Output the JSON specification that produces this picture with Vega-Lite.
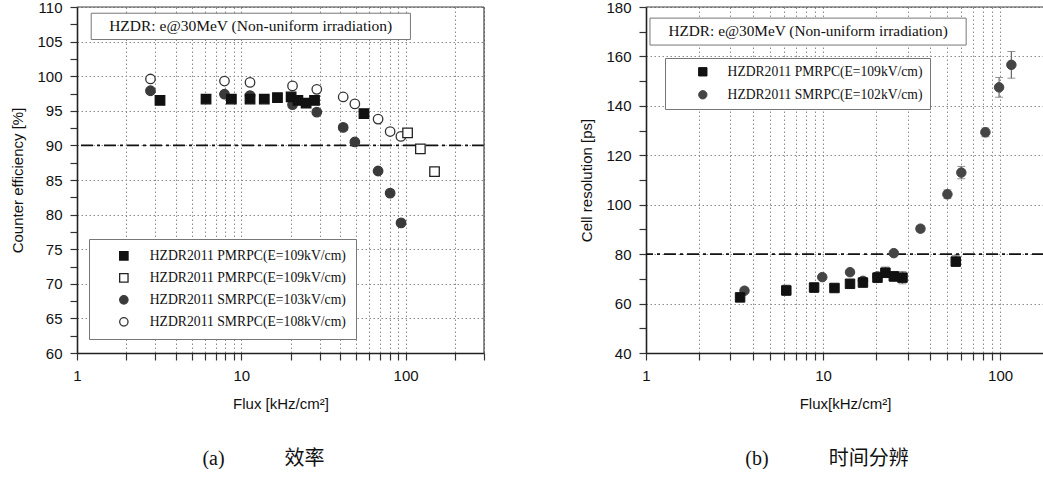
{
  "$schema": "https://vega.github.io/schema/vega-lite/v6.json",
  "padding": {"left": 10, "top": 0, "right": 0, "bottom": 0},
  "background": "white",
  "spacing": 94,
  "datasets": {
    "eff": [
      {"flux": 2.8, "eff": 97.9, "s": "SMRPC 103"},
      {"flux": 7.9, "eff": 97.4, "s": "SMRPC 103"},
      {"flux": 11.3, "eff": 97.2, "s": "SMRPC 103"},
      {"flux": 20.5, "eff": 95.9, "s": "SMRPC 103"},
      {"flux": 28.8, "eff": 94.8, "s": "SMRPC 103"},
      {"flux": 41.7, "eff": 92.6, "s": "SMRPC 103"},
      {"flux": 49.1, "eff": 90.5, "s": "SMRPC 103"},
      {"flux": 68, "eff": 86.3, "s": "SMRPC 103"},
      {"flux": 80.5, "eff": 83.1, "s": "SMRPC 103"},
      {"flux": 93.8, "eff": 78.8, "s": "SMRPC 103"},
      {"flux": 2.8, "eff": 99.6, "s": "SMRPC 108"},
      {"flux": 7.9, "eff": 99.3, "s": "SMRPC 108"},
      {"flux": 11.3, "eff": 99.1, "s": "SMRPC 108"},
      {"flux": 20.5, "eff": 98.6, "s": "SMRPC 108"},
      {"flux": 28.8, "eff": 98.1, "s": "SMRPC 108"},
      {"flux": 41.7, "eff": 97.0, "s": "SMRPC 108"},
      {"flux": 49.1, "eff": 96.0, "s": "SMRPC 108"},
      {"flux": 68, "eff": 93.8, "s": "SMRPC 108"},
      {"flux": 80.5, "eff": 92.0, "s": "SMRPC 108"},
      {"flux": 93.6, "eff": 91.3, "s": "SMRPC 108"},
      {"flux": 3.2, "eff": 96.5, "s": "PMRPC 109 filled"},
      {"flux": 6.1, "eff": 96.7, "s": "PMRPC 109 filled"},
      {"flux": 8.7, "eff": 96.7, "s": "PMRPC 109 filled"},
      {"flux": 11.3, "eff": 96.7, "s": "PMRPC 109 filled"},
      {"flux": 13.8, "eff": 96.7, "s": "PMRPC 109 filled"},
      {"flux": 16.6, "eff": 96.9, "s": "PMRPC 109 filled"},
      {"flux": 20.1, "eff": 97.0, "s": "PMRPC 109 filled"},
      {"flux": 22.1, "eff": 96.5, "s": "PMRPC 109 filled"},
      {"flux": 24.8, "eff": 96.1, "s": "PMRPC 109 filled"},
      {"flux": 27.9, "eff": 96.5, "s": "PMRPC 109 filled"},
      {"flux": 55.8, "eff": 94.6, "s": "PMRPC 109 filled"},
      {"flux": 102.8, "eff": 91.8, "s": "PMRPC 109 open"},
      {"flux": 123, "eff": 89.5, "s": "PMRPC 109 open"},
      {"flux": 150, "eff": 86.2, "s": "PMRPC 109 open"}
    ],
    "res": [
      {"flux": 3.6, "res": 65.2, "s": "HZDR2011 SMRPC(E=102kV/cm)"},
      {"flux": 9.9, "res": 70.7, "s": "HZDR2011 SMRPC(E=102kV/cm)"},
      {"flux": 14.2, "res": 72.7, "s": "HZDR2011 SMRPC(E=102kV/cm)"},
      {"flux": 16.8, "res": 69.2, "s": "HZDR2011 SMRPC(E=102kV/cm)"},
      {"flux": 20.3, "res": 71.0, "s": "HZDR2011 SMRPC(E=102kV/cm)"},
      {"flux": 25.1, "res": 80.4, "s": "HZDR2011 SMRPC(E=102kV/cm)"},
      {"flux": 35.5, "res": 90.3, "lo": 89.0, "hi": 91.5, "s": "HZDR2011 SMRPC(E=102kV/cm)"},
      {"flux": 50.4, "res": 104.2, "lo": 102.5, "hi": 106.0, "s": "HZDR2011 SMRPC(E=102kV/cm)"},
      {"flux": 60.4, "res": 113.0, "lo": 110.5, "hi": 115.5, "s": "HZDR2011 SMRPC(E=102kV/cm)"},
      {"flux": 82.6, "res": 129.3, "lo": 127.5, "hi": 131.0, "s": "HZDR2011 SMRPC(E=102kV/cm)"},
      {"flux": 98.7, "res": 147.5, "lo": 143.5, "hi": 151.5, "s": "HZDR2011 SMRPC(E=102kV/cm)"},
      {"flux": 115.8, "res": 156.6, "lo": 151.2, "hi": 162.0, "s": "HZDR2011 SMRPC(E=102kV/cm)"},
      {"flux": 3.4, "res": 62.5, "lo": 61.5, "hi": 63.5, "s": "HZDR2011 PMRPC(E=109kV/cm)"},
      {"flux": 6.2, "res": 65.3, "lo": 63.3, "hi": 67.5, "s": "HZDR2011 PMRPC(E=109kV/cm)"},
      {"flux": 8.9, "res": 66.5, "lo": 64.5, "hi": 68.0, "s": "HZDR2011 PMRPC(E=109kV/cm)"},
      {"flux": 11.6, "res": 66.3, "lo": 65.0, "hi": 67.8, "s": "HZDR2011 PMRPC(E=109kV/cm)"},
      {"flux": 14.2, "res": 68.0, "s": "HZDR2011 PMRPC(E=109kV/cm)"},
      {"flux": 16.8, "res": 68.5, "lo": 67.0, "hi": 70.0, "s": "HZDR2011 PMRPC(E=109kV/cm)"},
      {"flux": 20.3, "res": 70.5, "lo": 68.5, "hi": 72.5, "s": "HZDR2011 PMRPC(E=109kV/cm)"},
      {"flux": 22.5, "res": 72.5, "lo": 70.5, "hi": 74.8, "s": "HZDR2011 PMRPC(E=109kV/cm)"},
      {"flux": 25.1, "res": 71.0, "lo": 69.0, "hi": 73.0, "s": "HZDR2011 PMRPC(E=109kV/cm)"},
      {"flux": 28.1, "res": 70.5, "lo": 68.0, "hi": 73.0, "s": "HZDR2011 PMRPC(E=109kV/cm)"},
      {"flux": 56.2, "res": 77.0, "lo": 75.0, "hi": 79.5, "s": "HZDR2011 PMRPC(E=109kV/cm)"}
    ]
  },
  "hconcat": [
    {
      "width": 407,
      "height": 346,
      "title": {"text": "(a)\u3000\u3000\u3000效率", "orient": "bottom", "anchor": "middle", "dx": -17, "offset": 38, "font": "Liberation Serif, Noto Sans CJK SC", "fontSize": 20, "fontWeight": "normal", "color": "#111"},
      "layer": [
        {
          "data": {"values": [{}]},
          "mark": {"type": "rule", "strokeDash": [12, 4, 3, 4], "strokeWidth": 1.6, "color": "#111"},
          "encoding": {
            "y": {"datum": 90, "type": "quantitative",
              "scale": {"domain": [60, 110], "nice": false, "zero": false},
              "axis": {"title": "Counter efficiency [%]", "grid": true, "values": [60, 62.5, 65, 67.5, 70, 72.5, 75, 77.5, 80, 82.5, 85, 87.5, 90, 92.5, 95, 97.5, 100, 102.5, 105, 107.5, 110], "labelExpr": "datum.value % 5 == 0 ? format(datum.value, 'd') : ''", "labelOverlap": false, "labelFlush": false, "gridOpacity": {"condition": {"test": "datum.value % 5 == 0", "value": 1}, "value": 0}, "titlePadding": 11}}
          }
        },
        {
          "data": {"values": [{}]},
          "mark": {"type": "rule", "strokeWidth": 1.2, "color": "#444"},
          "encoding": {
            "y": {"datum": 110, "type": "quantitative",
              "scale": {"domain": [60, 110], "nice": false, "zero": false},
              "axis": {"title": "Counter efficiency [%]", "grid": true, "values": [60, 62.5, 65, 67.5, 70, 72.5, 75, 77.5, 80, 82.5, 85, 87.5, 90, 92.5, 95, 97.5, 100, 102.5, 105, 107.5, 110], "labelExpr": "datum.value % 5 == 0 ? format(datum.value, 'd') : ''", "labelOverlap": false, "labelFlush": false, "gridOpacity": {"condition": {"test": "datum.value % 5 == 0", "value": 1}, "value": 0}, "titlePadding": 11}}
          }
        },
        {
          "data": {"values": [{}]},
          "mark": {"type": "rule", "strokeWidth": 1.2, "color": "#444"},
          "encoding": {
            "x": {"datum": 300, "type": "quantitative",
              "scale": {"type": "log", "domain": [1, 300], "nice": false},
              "axis": {"title": "Flux [kHz/cm²]", "grid": true, "values": [1, 2, 3, 4, 5, 6, 7, 8, 9, 10, 20, 30, 40, 50, 60, 70, 80, 90, 100, 200, 300], "labelExpr": "datum.value == 1 || datum.value == 10 || datum.value == 100 ? format(datum.value, 'd') : ''", "labelOverlap": false, "labelFlush": false, "titlePadding": 13}}
          }
        },
        {
          "data": {"values": [{}]},
          "mark": {"type": "rect", "fill": "white", "stroke": "#777", "strokeWidth": 1},
          "encoding": {
            "x": {"datum": 1.22, "type": "quantitative",
              "scale": {"type": "log", "domain": [1, 300], "nice": false},
              "axis": {"title": "Flux [kHz/cm²]", "grid": true, "values": [1, 2, 3, 4, 5, 6, 7, 8, 9, 10, 20, 30, 40, 50, 60, 70, 80, 90, 100, 200, 300], "labelExpr": "datum.value == 1 || datum.value == 10 || datum.value == 100 ? format(datum.value, 'd') : ''", "labelOverlap": false, "labelFlush": false, "titlePadding": 13}},
            "x2": {"datum": 107},
            "y": {"datum": 109.1, "type": "quantitative",
              "scale": {"domain": [60, 110], "nice": false, "zero": false},
              "axis": {"title": "Counter efficiency [%]", "grid": true, "values": [60, 62.5, 65, 67.5, 70, 72.5, 75, 77.5, 80, 82.5, 85, 87.5, 90, 92.5, 95, 97.5, 100, 102.5, 105, 107.5, 110], "labelExpr": "datum.value % 5 == 0 ? format(datum.value, 'd') : ''", "labelOverlap": false, "labelFlush": false, "gridOpacity": {"condition": {"test": "datum.value % 5 == 0", "value": 1}, "value": 0}, "titlePadding": 11}},
            "y2": {"datum": 105.3}
          }
        },
        {
          "data": {"values": [{}]},
          "mark": {"type": "text", "font": "Liberation Serif", "fontSize": 15.5, "color": "#111"},
          "encoding": {
            "x": {"datum": 11.4, "type": "quantitative",
              "scale": {"type": "log", "domain": [1, 300], "nice": false},
              "axis": {"title": "Flux [kHz/cm²]", "grid": true, "values": [1, 2, 3, 4, 5, 6, 7, 8, 9, 10, 20, 30, 40, 50, 60, 70, 80, 90, 100, 200, 300], "labelExpr": "datum.value == 1 || datum.value == 10 || datum.value == 100 ? format(datum.value, 'd') : ''", "labelOverlap": false, "labelFlush": false, "titlePadding": 13}},
            "y": {"datum": 107.2, "type": "quantitative",
              "scale": {"domain": [60, 110], "nice": false, "zero": false},
              "axis": {"title": "Counter efficiency [%]", "grid": true, "values": [60, 62.5, 65, 67.5, 70, 72.5, 75, 77.5, 80, 82.5, 85, 87.5, 90, 92.5, 95, 97.5, 100, 102.5, 105, 107.5, 110], "labelExpr": "datum.value % 5 == 0 ? format(datum.value, 'd') : ''", "labelOverlap": false, "labelFlush": false, "gridOpacity": {"condition": {"test": "datum.value % 5 == 0", "value": 1}, "value": 0}, "titlePadding": 11}},
            "text": {"value": "HZDR: e@30MeV (Non-uniform irradiation)"}
          }
        },
        {
          "data": {"name": "eff"},
          "mark": {"type": "point", "filled": true, "opacity": 1, "strokeWidth": 1.3},
          "encoding": {
            "x": {"field": "flux", "type": "quantitative",
              "scale": {"type": "log", "domain": [1, 300], "nice": false},
              "axis": {"title": "Flux [kHz/cm²]", "grid": true, "values": [1, 2, 3, 4, 5, 6, 7, 8, 9, 10, 20, 30, 40, 50, 60, 70, 80, 90, 100, 200, 300], "labelExpr": "datum.value == 1 || datum.value == 10 || datum.value == 100 ? format(datum.value, 'd') : ''", "labelOverlap": false, "labelFlush": false, "titlePadding": 13}},
            "y": {"field": "eff", "type": "quantitative",
              "scale": {"domain": [60, 110], "nice": false, "zero": false},
              "axis": {"title": "Counter efficiency [%]", "grid": true, "values": [60, 62.5, 65, 67.5, 70, 72.5, 75, 77.5, 80, 82.5, 85, 87.5, 90, 92.5, 95, 97.5, 100, 102.5, 105, 107.5, 110], "labelExpr": "datum.value % 5 == 0 ? format(datum.value, 'd') : ''", "labelOverlap": false, "labelFlush": false, "gridOpacity": {"condition": {"test": "datum.value % 5 == 0", "value": 1}, "value": 0}, "titlePadding": 11}},
            "shape": {
              "field": "s", "type": "nominal",
              "scale": {"domain": ["PMRPC 109 filled", "PMRPC 109 open", "SMRPC 103", "SMRPC 108"], "range": ["square", "square", "circle", "circle"]},
              "legend": {
                "title": null, "orient": "none", "legendX": 12, "legendY": 232,
                "fillColor": "white", "strokeColor": "#777", "padding": 10,
                "labelFont": "Liberation Serif", "labelFontSize": 13.7, "labelColor": "#111", "labelLimit": 400,
                "symbolSize": 70, "symbolStrokeWidth": 1.3, "symbolOffset": 18, "labelOffset": 19, "rowPadding": 7,
                "labelExpr": "datum.label == 'SMRPC 103' ? 'HZDR2011 SMRPC(E=103kV/cm)' : datum.label == 'SMRPC 108' ? 'HZDR2011 SMRPC(E=108kV/cm)' : 'HZDR2011 PMRPC(E=109kV/cm)'"
              }
            },
            "fill": {
              "field": "s", "type": "nominal",
              "scale": {"domain": ["PMRPC 109 filled", "PMRPC 109 open", "SMRPC 103", "SMRPC 108"], "range": ["#111111", "#ffffff", "#3a3a3a", "#ffffff"]}
            },
            "stroke": {
              "field": "s", "type": "nominal",
              "scale": {"domain": ["PMRPC 109 filled", "PMRPC 109 open", "SMRPC 103", "SMRPC 108"], "range": ["#111111", "#222222", "#3a3a3a", "#333333"]}
            }
          }
        }
      ]
    },
    {
      "width": 398,
      "height": 346,
      "title": {"text": "(b)\u3000\u3000\u3000时间分辨", "orient": "bottom", "anchor": "middle", "dx": -18, "offset": 38, "font": "Liberation Serif, Noto Sans CJK SC", "fontSize": 20, "fontWeight": "normal", "color": "#111"},
      "layer": [
        {
          "data": {"values": [{}]},
          "mark": {"type": "rule", "strokeDash": [12, 4, 3, 4], "strokeWidth": 1.6, "color": "#111"},
          "encoding": {
            "y": {"datum": 80, "type": "quantitative",
              "scale": {"domain": [40, 180], "nice": false, "zero": false},
              "axis": {"title": "Cell resolution [ps]", "grid": true, "values": [40, 50, 60, 70, 80, 90, 100, 110, 120, 130, 140, 150, 160, 170, 180], "labelExpr": "datum.value % 20 == 0 ? format(datum.value, 'd') : ''", "labelOverlap": false, "labelFlush": false, "gridOpacity": {"condition": {"test": "datum.value % 20 == 0", "value": 1}, "value": 0}, "titlePadding": 11}}
          }
        },
        {
          "data": {"values": [{}]},
          "mark": {"type": "rule", "strokeWidth": 1.2, "color": "#444"},
          "encoding": {
            "y": {"datum": 180, "type": "quantitative",
              "scale": {"domain": [40, 180], "nice": false, "zero": false},
              "axis": {"title": "Cell resolution [ps]", "grid": true, "values": [40, 50, 60, 70, 80, 90, 100, 110, 120, 130, 140, 150, 160, 170, 180], "labelExpr": "datum.value % 20 == 0 ? format(datum.value, 'd') : ''", "labelOverlap": false, "labelFlush": false, "gridOpacity": {"condition": {"test": "datum.value % 20 == 0", "value": 1}, "value": 0}, "titlePadding": 11}}
          }
        },
        {
          "data": {"values": [{}]},
          "mark": {"type": "rect", "fill": "white", "stroke": "#777", "strokeWidth": 1},
          "encoding": {
            "x": {"datum": 1.053, "type": "quantitative",
              "scale": {"type": "log", "domain": [1, 177], "nice": false},
              "axis": {"title": "Flux[kHz/cm²]", "grid": true, "values": [1, 2, 3, 4, 5, 6, 7, 8, 9, 10, 20, 30, 40, 50, 60, 70, 80, 90, 100], "labelExpr": "datum.value == 1 || datum.value == 10 || datum.value == 100 ? format(datum.value, 'd') : ''", "labelOverlap": false, "labelFlush": false, "titlePadding": 13}},
            "x2": {"datum": 64.3},
            "y": {"datum": 175.5, "type": "quantitative",
              "scale": {"domain": [40, 180], "nice": false, "zero": false},
              "axis": {"title": "Cell resolution [ps]", "grid": true, "values": [40, 50, 60, 70, 80, 90, 100, 110, 120, 130, 140, 150, 160, 170, 180], "labelExpr": "datum.value % 20 == 0 ? format(datum.value, 'd') : ''", "labelOverlap": false, "labelFlush": false, "gridOpacity": {"condition": {"test": "datum.value % 20 == 0", "value": 1}, "value": 0}, "titlePadding": 11}},
            "y2": {"datum": 164.6}
          }
        },
        {
          "data": {"values": [{}]},
          "mark": {"type": "text", "font": "Liberation Serif", "fontSize": 15.3, "color": "#111"},
          "encoding": {
            "x": {"datum": 8.23, "type": "quantitative",
              "scale": {"type": "log", "domain": [1, 177], "nice": false},
              "axis": {"title": "Flux[kHz/cm²]", "grid": true, "values": [1, 2, 3, 4, 5, 6, 7, 8, 9, 10, 20, 30, 40, 50, 60, 70, 80, 90, 100], "labelExpr": "datum.value == 1 || datum.value == 10 || datum.value == 100 ? format(datum.value, 'd') : ''", "labelOverlap": false, "labelFlush": false, "titlePadding": 13}},
            "y": {"datum": 170.1, "type": "quantitative",
              "scale": {"domain": [40, 180], "nice": false, "zero": false},
              "axis": {"title": "Cell resolution [ps]", "grid": true, "values": [40, 50, 60, 70, 80, 90, 100, 110, 120, 130, 140, 150, 160, 170, 180], "labelExpr": "datum.value % 20 == 0 ? format(datum.value, 'd') : ''", "labelOverlap": false, "labelFlush": false, "gridOpacity": {"condition": {"test": "datum.value % 20 == 0", "value": 1}, "value": 0}, "titlePadding": 11}},
            "text": {"value": "HZDR: e@30MeV (Non-uniform irradiation)"}
          }
        },
        {
          "data": {"name": "res"},
          "transform": [{"filter": "isValid(datum.lo)"}],
          "mark": {"type": "errorbar", "rule": {"color": "#666", "strokeWidth": 1.2}, "ticks": {"color": "#666", "size": 8, "strokeWidth": 1.2}},
          "encoding": {
            "x": {"field": "flux", "type": "quantitative",
              "scale": {"type": "log", "domain": [1, 177], "nice": false},
              "axis": {"title": "Flux[kHz/cm²]", "grid": true, "values": [1, 2, 3, 4, 5, 6, 7, 8, 9, 10, 20, 30, 40, 50, 60, 70, 80, 90, 100], "labelExpr": "datum.value == 1 || datum.value == 10 || datum.value == 100 ? format(datum.value, 'd') : ''", "labelOverlap": false, "labelFlush": false, "titlePadding": 13}},
            "y": {"field": "lo", "type": "quantitative",
              "scale": {"domain": [40, 180], "nice": false, "zero": false},
              "axis": {"title": "Cell resolution [ps]", "grid": true, "values": [40, 50, 60, 70, 80, 90, 100, 110, 120, 130, 140, 150, 160, 170, 180], "labelExpr": "datum.value % 20 == 0 ? format(datum.value, 'd') : ''", "labelOverlap": false, "labelFlush": false, "gridOpacity": {"condition": {"test": "datum.value % 20 == 0", "value": 1}, "value": 0}, "titlePadding": 11}},
            "y2": {"field": "hi"}
          }
        },
        {
          "data": {"name": "res"},
          "mark": {"type": "point", "filled": true, "opacity": 1, "strokeWidth": 1},
          "encoding": {
            "x": {"field": "flux", "type": "quantitative",
              "scale": {"type": "log", "domain": [1, 177], "nice": false},
              "axis": {"title": "Flux[kHz/cm²]", "grid": true, "values": [1, 2, 3, 4, 5, 6, 7, 8, 9, 10, 20, 30, 40, 50, 60, 70, 80, 90, 100], "labelExpr": "datum.value == 1 || datum.value == 10 || datum.value == 100 ? format(datum.value, 'd') : ''", "labelOverlap": false, "labelFlush": false, "titlePadding": 13}},
            "y": {"field": "res", "type": "quantitative",
              "scale": {"domain": [40, 180], "nice": false, "zero": false},
              "axis": {"title": "Cell resolution [ps]", "grid": true, "values": [40, 50, 60, 70, 80, 90, 100, 110, 120, 130, 140, 150, 160, 170, 180], "labelExpr": "datum.value % 20 == 0 ? format(datum.value, 'd') : ''", "labelOverlap": false, "labelFlush": false, "gridOpacity": {"condition": {"test": "datum.value % 20 == 0", "value": 1}, "value": 0}, "titlePadding": 11}},
            "shape": {
              "field": "s", "type": "nominal",
              "scale": {"domain": ["HZDR2011 PMRPC(E=109kV/cm)", "HZDR2011 SMRPC(E=102kV/cm)"], "range": ["square", "circle"]},
              "legend": {
                "title": null, "orient": "none", "legendX": 19, "legendY": 51,
                "fillColor": "white", "strokeColor": "#777", "padding": 7,
                "labelFont": "Liberation Serif", "labelFontSize": 13.6, "labelColor": "#111", "labelLimit": 400,
                "symbolSize": 70, "symbolStrokeWidth": 1, "symbolOffset": 24, "labelOffset": 18, "rowPadding": 8
              }
            },
            "fill": {
              "field": "s", "type": "nominal",
              "scale": {"domain": ["HZDR2011 PMRPC(E=109kV/cm)", "HZDR2011 SMRPC(E=102kV/cm)"], "range": ["#111111", "#454545"]}
            },
            "stroke": {
              "field": "s", "type": "nominal",
              "scale": {"domain": ["HZDR2011 PMRPC(E=109kV/cm)", "HZDR2011 SMRPC(E=102kV/cm)"], "range": ["#111111", "#454545"]}
            }
          }
        }
      ]
    }
  ],
  "resolve": {"scale": {"shape": "independent", "fill": "independent", "stroke": "independent"}, "legend": {"shape": "independent", "fill": "independent", "stroke": "independent"}},
  "config": {
    "view": {"stroke": null},
    "point": {"size": 90},
    "axis": {
      "domainColor": "#222", "domainWidth": 1.6,
      "tickColor": "#333", "tickWidth": 1.2, "tickSize": 7,
      "grid": true, "gridColor": "#8c8c8c", "gridDash": [1.5, 2.5], "gridWidth": 1, "gridOpacity": 1,
      "labelFont": "Liberation Sans", "labelFontSize": 15, "labelColor": "#111", "labelPadding": 8,
      "titleFont": "Liberation Sans", "titleFontSize": 15, "titleFontWeight": "normal", "titleColor": "#111"
    }
  }
}
